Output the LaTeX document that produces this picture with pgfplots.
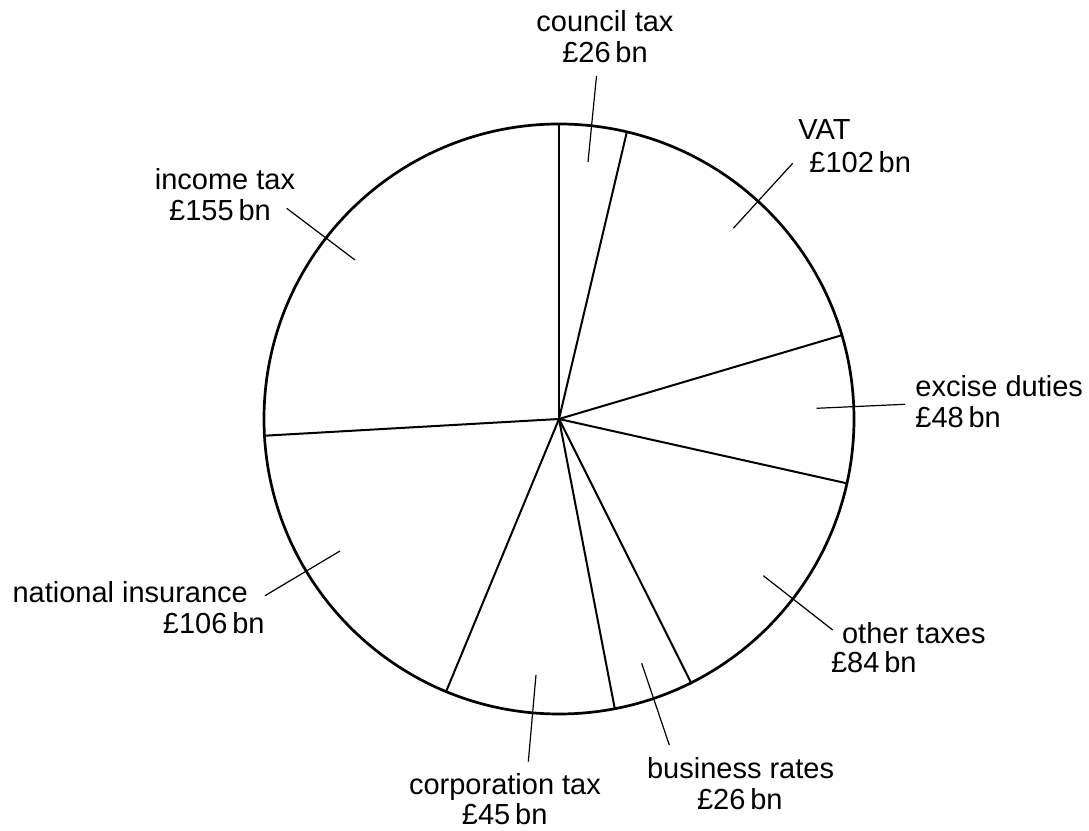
\documentclass[border=0pt]{standalone}
\usepackage{pgfplots}
\pgfplotsset{compat=1.18}
\usepackage{fontspec}
\setmainfont{Liberation Sans}
\begin{document}
\fontsize{14.5}{17}\selectfont
\begin{tikzpicture}
\begin{axis}[hide axis, scale only axis, width=544.5pt, height=415.5pt,
  xmin=-559, xmax=530, ymin=-412, ymax=419, clip=false,
  every axis plot/.append style={black}]
% bounding box of the whole picture
\path (axis cs:-559,-412) rectangle (axis cs:530,419);
% pie outline
\draw[line width=1.35pt] (axis cs:0,0) circle[radius=295];
% slice boundaries (angle in degrees, radius)
\addplot[data cs=polar, line width=1pt] coordinates {(0,0) (90,295)};
\addplot[data cs=polar, line width=1pt] coordinates {(0,0) (76.7,295)};
\addplot[data cs=polar, line width=1pt] coordinates {(0,0) (16.5,295)};
\addplot[data cs=polar, line width=1pt] coordinates {(0,0) (-12.6,295)};
\addplot[data cs=polar, line width=1pt] coordinates {(0,0) (-63.4,295)};
\addplot[data cs=polar, line width=1pt] coordinates {(0,0) (-79.1,295)};
\addplot[data cs=polar, line width=1pt] coordinates {(0,0) (-112.5,295)};
\addplot[data cs=polar, line width=1pt] coordinates {(0,0) (183.25,295)};
% leader lines
\addplot[line width=0.6pt] coordinates {(37.5,343) (29,257)};
\addplot[line width=0.6pt] coordinates {(174.3,190.7) (233.7,255.7)};
\addplot[line width=0.6pt] coordinates {(257.7,10.7) (346,14.7)};
\addplot[line width=0.6pt] coordinates {(204.3,-156.7) (273.7,-211)};
\addplot[line width=0.6pt] coordinates {(82.7,-244.3) (110.3,-326)};
\addplot[line width=0.6pt] coordinates {(-23,-256) (-30.7,-342.7)};
\addplot[line width=0.6pt] coordinates {(-294,-176.7) (-219,-132)};
\addplot[line width=0.6pt] coordinates {(-272.3,210.7) (-204,159)};
% labels
\node[anchor=base, inner sep=0pt] at (axis cs:46,387.3) {council tax};
\node[anchor=base, inner sep=0pt] at (axis cs:46,356) {£26\,bn};
\node[anchor=base west, inner sep=0pt] at (axis cs:239,279) {VAT};
\node[anchor=base west, inner sep=0pt] at (axis cs:250,246) {£102\,bn};
\node[anchor=base west, inner sep=0pt] at (axis cs:356,22) {excise duties};
\node[anchor=base west, inner sep=0pt] at (axis cs:356,-9) {£48\,bn};
\node[anchor=base west, inner sep=0pt] at (axis cs:282.7,-224.3) {other taxes};
\node[anchor=base west, inner sep=0pt] at (axis cs:271.7,-254) {£84\,bn};
\node[anchor=base west, inner sep=0pt] at (axis cs:87.7,-359.3) {business rates};
\node[anchor=base west, inner sep=0pt] at (axis cs:137.7,-391) {£26\,bn};
\node[anchor=base, inner sep=0pt] at (axis cs:-54,-376) {corporation tax};
\node[anchor=base, inner sep=0pt] at (axis cs:-54.3,-406) {£45\,bn};
\node[anchor=base east, inner sep=0pt] at (axis cs:-310.7,-183.7) {national insurance};
\node[anchor=base east, inner sep=0pt] at (axis cs:-294,-214.3) {£106\,bn};
\node[anchor=base, inner sep=0pt] at (axis cs:-334,229.7) {income tax};
\node[anchor=base, inner sep=0pt] at (axis cs:-339,198) {£155\,bn};
\end{axis}
\end{tikzpicture}
\end{document}
